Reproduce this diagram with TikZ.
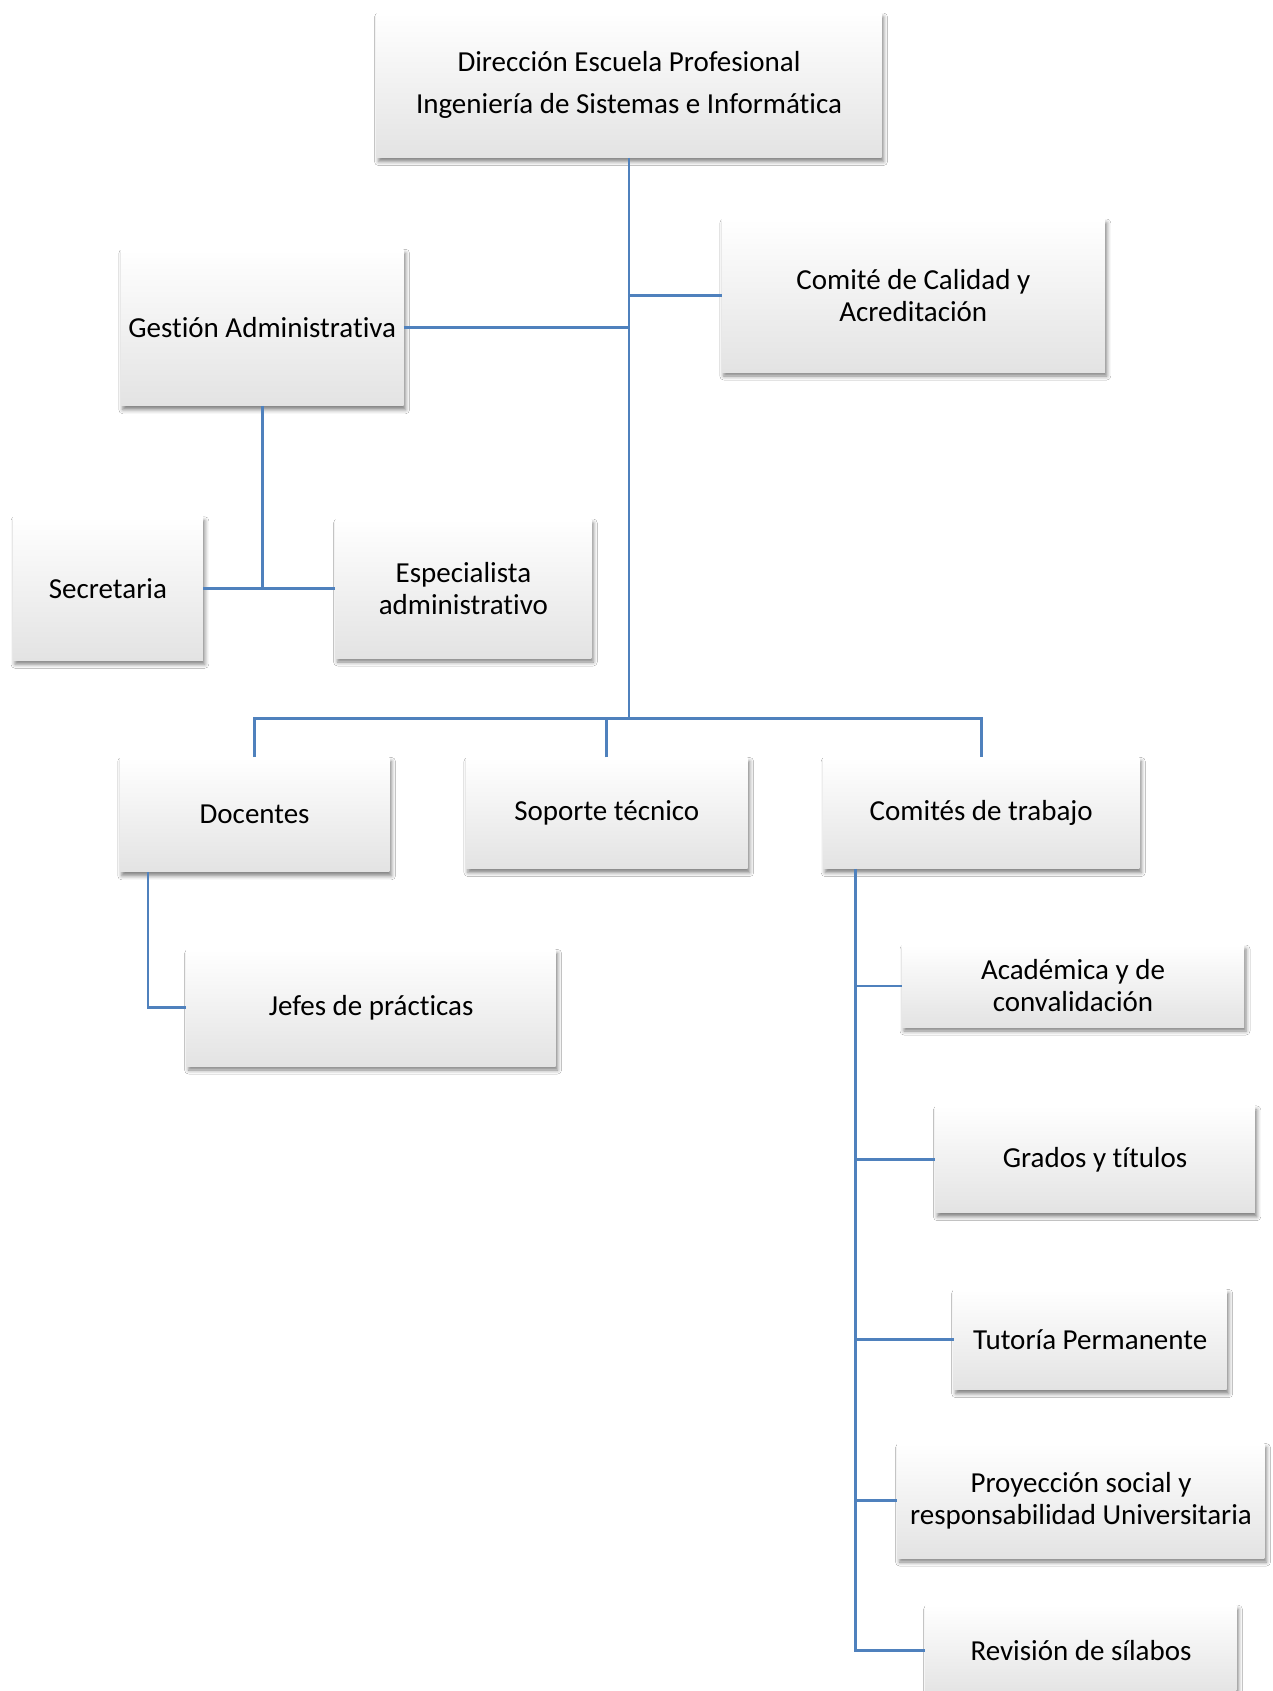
\documentclass[tikz,border=0pt]{standalone}
\usepackage{fontspec}
\setmainfont[Ligatures=NoCommon,RawFeature={-liga;-clig;-calt;-dlig}]{Carlito}
\usetikzlibrary{shadows.blur}
\definecolor{linkblue}{HTML}{4F81BD}
\tikzset{
  unitbox/.style={inner sep=0pt, align=center, font=\fontsize{29}{32}\selectfont,
    top color=white, middle color=white!97!black, bottom color=black!11,
    blur shadow={shadow xshift=2pt, shadow yshift=-4pt, shadow blur radius=4pt, shadow opacity=50}},
  conn/.style={draw=linkblue, line width=2.8pt}
}
\begin{document}
\begin{tikzpicture}[x=1pt,y=-1pt]
\useasboundingbox (0,0) rectangle (1272,1691);
\fill[white] (0,0) rectangle (1272,1691);
\node[unitbox, minimum width=505, minimum height=144.5] (top) at (629,85.3) {Dirección Escuela Profesional\\[10pt]Ingeniería de Sistemas e Informática};
\node[unitbox, minimum width=383, minimum height=153] (comite) at (913.3,295.5) {Comité de Calidad y\\Acreditación};
\node[unitbox, minimum width=282.7, minimum height=156.5] (gestion) at (262.2,327.5) {Gestión Administrativa};
\node[unitbox, minimum width=189.8, minimum height=143.5] (secretaria) at (107.9,588.5) {Secretaria};
\node[unitbox, minimum width=255.7, minimum height=139] (especialista) at (463.4,588.5) {Especialista\\administrativo};
\node[unitbox, minimum width=269.7, minimum height=114.4] (docentes) at (254.6,814.6) {Docentes};
\node[unitbox, minimum width=281.7, minimum height=111.1] (soporte) at (606.8,813) {Soporte técnico};
\node[unitbox, minimum width=316.1, minimum height=111.1] (comites) at (981.2,813) {Comités de trabajo};
\node[unitbox, minimum width=369, minimum height=116.6] (jefes) at (371.1,1007.7) {Jefes de prácticas};
\node[unitbox, minimum width=342, minimum height=82] (academica) at (1073,986) {Académica y de\\convalidación};
\node[unitbox, minimum width=319.4, minimum height=106.8] (grados) at (1095.1,1159.3) {Grados y títulos};
\node[unitbox, minimum width=273, minimum height=100.3] (tutoria) at (1090.2,1339.5) {Tutoría Permanente};
\node[unitbox, minimum width=366.9, minimum height=114.4] (proyeccion) at (1081,1500.8) {Proyección social y\\responsabilidad Universitaria};
\node[unitbox, minimum width=310.7, minimum height=91] (revision) at (1081,1650.7) {Revisión de sílabos};
\coordinate (bus) at (629,718.5);
\coordinate (dj) at (148,1007.7);
\coordinate (ct) at (855.6,868.5);
\draw[conn] (top.south) -- (bus);
\draw[conn] (comite.west) -- (comite.west -| top.south);
\draw[conn] (gestion.east) -- (gestion.east -| top.south);
\draw[conn] (gestion.south) -- (gestion.south |- secretaria.east);
\draw[conn] (secretaria.east) -- (especialista.west);
\draw[conn] (docentes.north) -- (docentes.north |- bus) -- (comites.north |- bus) -- (comites.north);
\draw[conn] (soporte.north) -- (soporte.north |- bus);
\draw[conn] (dj |- docentes.south) -- (dj) -- (jefes.west);
\draw[conn] (ct |- comites.south) -- (ct |- revision.west) -- (revision.west);
\draw[conn] (ct |- academica.west) -- (academica.west);
\draw[conn] (ct |- grados.west) -- (grados.west);
\draw[conn] (ct |- tutoria.west) -- (tutoria.west);
\draw[conn] (ct |- proyeccion.west) -- (proyeccion.west);
\end{tikzpicture}
\end{document}
